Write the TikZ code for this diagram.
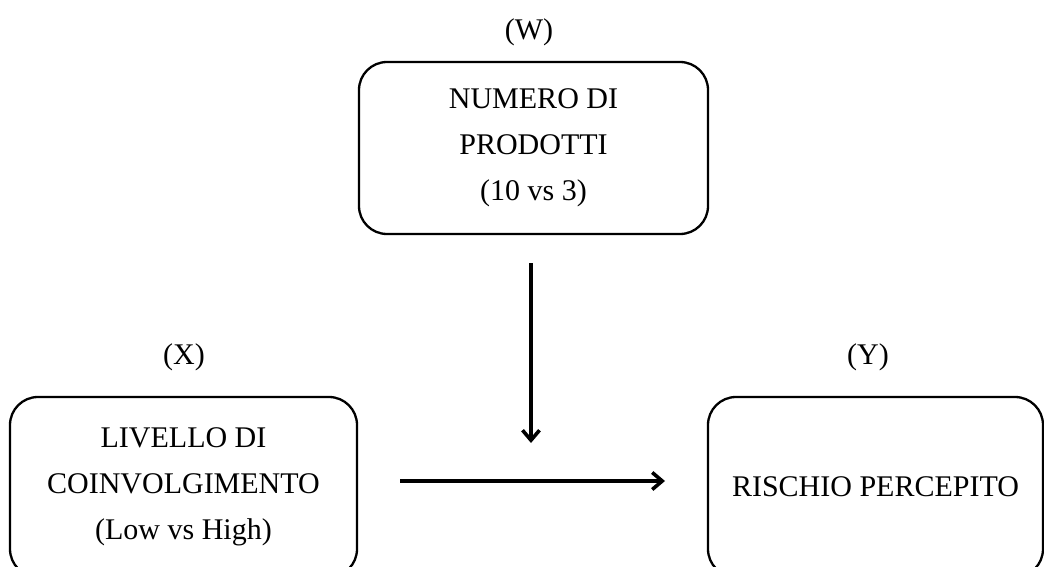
\documentclass[tikz,border=0pt]{standalone}
\usepackage{fontspec}
\setmainfont{Liberation Serif}
\usetikzlibrary{arrows.meta}

\begin{document}
\begin{tikzpicture}[x=1pt,y=1pt]
\tikzstyle{every node}+=[inner sep=0pt,font=\fontsize{30}{46}\selectfont]
\tikzstyle{varbox}=[draw,line width=2.3pt,rounded corners=28pt,align=center]
\tikzstyle{link}=[line width=3.6pt,-{Straight Barb[length=10pt,width=17pt,line width=3.6pt]}]
\useasboundingbox (0,0) rectangle (1044,-567);
% labels
\node (wlab) at (529,-32) {(W)};
\node (xlab) at (184,-357) {(X)};
\node (ylab) at (868,-357) {(Y)};
% boxes
\node [varbox,minimum width=349pt,minimum height=172pt] (numero) at (533.5,-148) {NUMERO DI\\PRODOTTI\\(10 vs 3)};
\node [varbox,minimum width=347pt,minimum height=180pt] (livello) at (183.5,-487) {LIVELLO DI\\COINVOLGIMENTO\\(Low vs High)};
\node [varbox,minimum width=335pt,minimum height=180pt] (rischio) at (875.5,-487) {RISCHIO PERCEPITO};
% arrows
\coordinate (wtop) at (531,-263);
\coordinate (wend) at (531,-443);
\coordinate (xstart) at (400,-481);
\coordinate (yend) at (665,-481);
\draw [link] (wtop) -- (wend);
\draw [link] (xstart) -- (yend);
\end{tikzpicture}
\end{document}
